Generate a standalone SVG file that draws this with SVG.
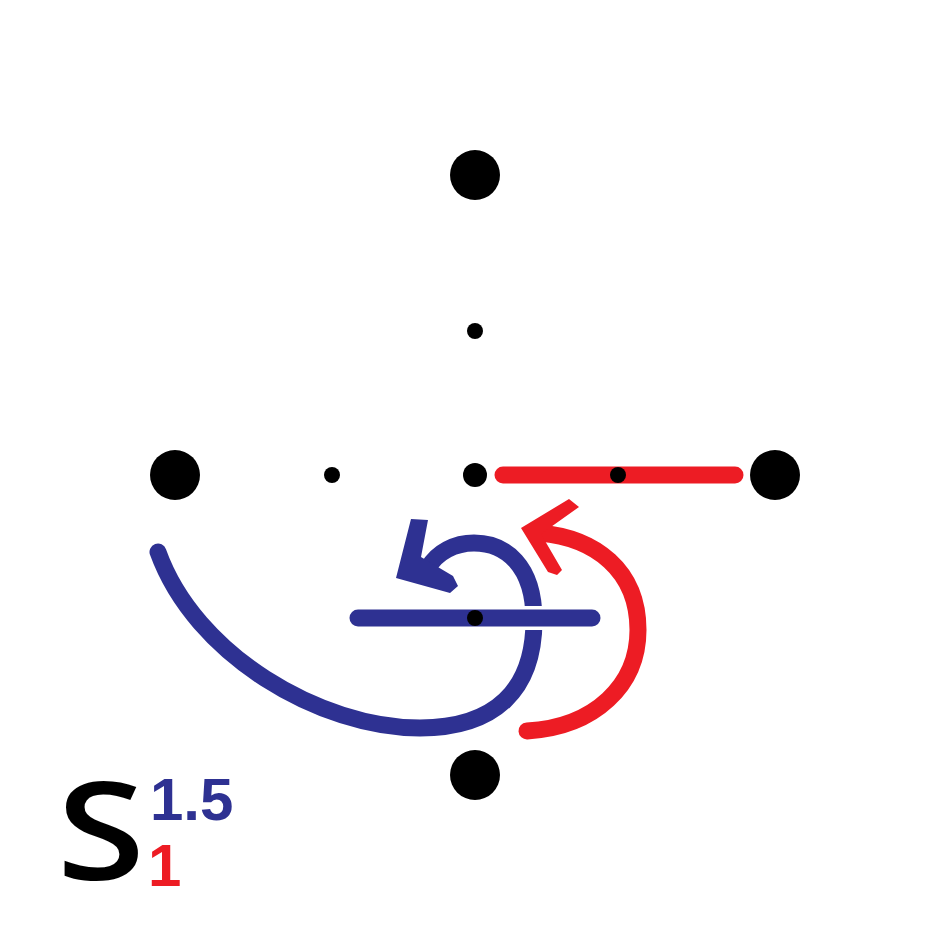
<svg xmlns="http://www.w3.org/2000/svg" width="950" height="950" viewBox="0 0 950 950">
<style>
.dot{fill:#000}
.blue{stroke:#2E3192;fill:none;stroke-width:17;stroke-linecap:round}
.red{stroke:#ED1C24;fill:none;stroke-width:17;stroke-linecap:round}
.t{font-family:"Open Sans","Liberation Sans",sans-serif}
.n{font-family:"Liberation Sans","Arial",sans-serif;font-weight:bold}
</style>
<rect width="950" height="950" fill="#fff"/>
<g id="connectors">
<path class="blue" d="M158,552 C195,655 320,728 420,728 C495,728 534,690 534,620 C534,565 505,543 474,543 C455,543 437,552 428,568"/>
<polygon fill="#2E3192" points="411,519 428,520 421,557 453,576 458,586 450,593 396,578"/>
<line x1="358" y1="618" x2="592" y2="618" stroke="#fff" stroke-width="24" stroke-linecap="round"/>
<line class="blue" x1="358" y1="618" x2="592" y2="618"/>
<path class="red" d="M527,731 C595,727 638,685 638,630 C638,570 595,538 540,533"/>
<polygon fill="#ED1C24" points="521,528 569,499 579,507 541,534 562,570 557,575 548,572"/>
<line class="red" x1="503" y1="475" x2="735" y2="475"/>
</g>
<g id="n1"><circle class="dot" cx="475" cy="175" r="25"/></g>
<g id="n2"><circle class="dot" cx="175" cy="475" r="25"/></g>
<g id="n3"><circle class="dot" cx="775" cy="475" r="25"/></g>
<g id="n4"><circle class="dot" cx="475" cy="775" r="25"/></g>
<g id="n5"><circle class="dot" cx="475" cy="331" r="8"/></g>
<g id="n6"><circle class="dot" cx="332" cy="475" r="8"/></g>
<g id="n7"><circle class="dot" cx="475" cy="475" r="12"/></g>
<g id="n8"><circle class="dot" cx="618" cy="475" r="8"/></g>
<g id="n9"><circle class="dot" cx="475" cy="618" r="8"/></g>
<g id="label">
<text class="t" x="58" y="880" font-size="136" font-weight="600" fill="#000" transform="translate(65,0) scale(1.18,1) translate(-65,0)">S</text>
<text class="n" x="150" y="820" font-size="60" fill="#2E3192">1.5</text>
<text class="n" x="148" y="886" font-size="60" fill="#ED1C24">1</text>
</g>
</svg>
